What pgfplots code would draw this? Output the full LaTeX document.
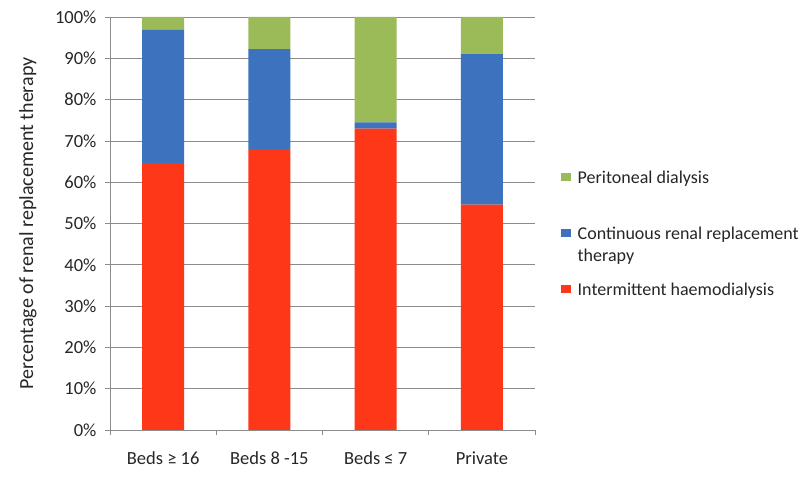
\documentclass[border=0pt]{standalone}
\usepackage{pgfplots}
\pgfplotsset{compat=1.18}
\usepackage{fontspec}
\setmainfont{Carlito}
\definecolor{ihd}{RGB}{255,55,25}
\definecolor{crrt}{RGB}{60,114,190}
\definecolor{pd}{RGB}{155,187,89}
\definecolor{gridc}{RGB}{140,140,140}
\pgfplotsset{
  oneline legend/.style={legend image code/.code={\fill[##1] (0pt,2.5pt) rectangle (9.5pt,10.5pt);}},
  twoline legend/.style={legend image code/.code={\fill[##1] (0pt,24.5pt) rectangle (9.5pt,32.5pt);}},
}
\begin{document}
\begin{tikzpicture}[x=1pt,y=1pt]
\path[use as bounding box] (0,0) rectangle (807,488);
\begin{axis}[
  at={(110pt,58pt)}, anchor=south west,
  scale only axis, width=425pt, height=413pt,
  ybar stacked, bar width=42pt,
  xmin=0.5, xmax=4.5, ymin=0, ymax=100,
  axis x line=bottom, axis y line=left,
  axis line style={gridc,-},
  xtick={0.5,1.5,2.5,3.5,4.5},
  x tick label as interval,
  xticklabels={{Beds ≥ 16},{Beds 8 -15},{Beds ≤ 7},{Private}},
  ytick={0,10,...,100},
  yticklabel={\pgfmathprintnumber{\tick}\%},
  /pgf/number format/assume math mode=true,
  tick align=outside, major tick length=5pt,
  tick style={gridc, line width=0.6pt},
  ymajorgrids, grid style={gridc, line width=0.6pt},
  ticklabel style={font=\fontsize{18.5}{22}\selectfont, text=black!85},
  x tick label style={yshift=-13pt},
  y tick label style={xshift=-5pt},
  ylabel={Percentage of renal replacement therapy},
  ylabel style={font=\fontsize{20}{23}\selectfont, text=black!85},
  every axis y label/.append style={at={(-82pt,0.5)}, anchor=center},
  legend style={at={(448pt,263pt)}, anchor=north west, draw=none, fill=none,
    font=\fontsize{18}{22}\selectfont, text=black!85,
    cells={anchor=base west, align=left}, row sep=16pt, column sep=5pt},
  reverse legend,
]
\addplot[fill=ihd, draw=none, oneline legend]
  coordinates {(1,64.6) (2,68.0) (3,73.0) (4,54.6)};
\addlegendentry{Intermittent haemodialysis}
\addplot[fill=crrt, draw=none, twoline legend]
  coordinates {(1,32.3) (2,24.2) (3,1.5) (4,36.4)};
\addlegendentry{Continuous renal replacement\\therapy}
\addplot[fill=pd, draw=none, twoline legend]
  coordinates {(1,3.1) (2,7.8) (3,25.5) (4,9.0)};
\addlegendentry{Peritoneal dialysis\\\mbox{}}
\end{axis}
\end{tikzpicture}
\end{document}
